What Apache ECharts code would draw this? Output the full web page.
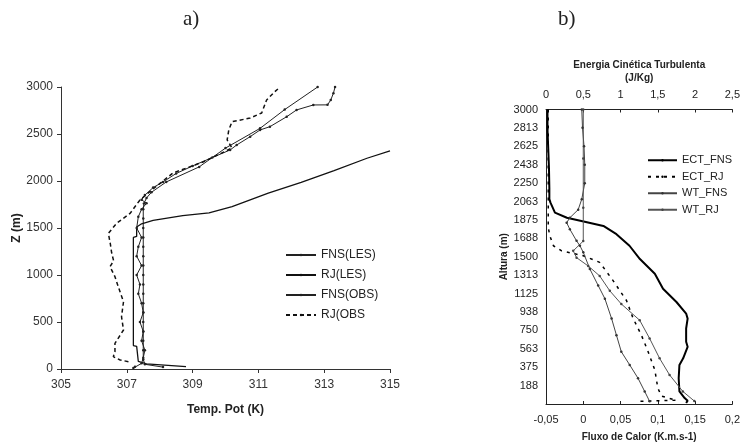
<!DOCTYPE html>
<html><head><meta charset="utf-8">
<script src="https://cdn.jsdelivr.net/npm/echarts@6/dist/echarts.min.js"></script>
<style>html,body{margin:0;padding:0;background:#fff}#c{width:743px;height:447px}</style>
</head><body><div id="c"></div>
<script>
// ---------- Chart a) Temp. Pot (K) vs Z (m) ----------
const aTicksX = [305, 307, 309, 311, 313, 315];
const fnsLesTemp = [308.1, 307.55, 307.5, 307.5, 307.5, 307.5, 307.5, 307.5, 307.5, 307.5, 307.5, 307.5, 307.5, 307.5, 307.5, 307.5, 307.5, 307.5, 307.5, 307.52, 307.6, 307.75, 308.2, 309.2, 310.0, 311.05, 311.8, 312.8];
const fnsLesZ    = [20, 50, 100, 200, 300, 400, 500, 600, 700, 800, 900, 1000, 1100, 1200, 1300, 1400, 1500, 1600, 1700, 1760, 1820, 1880, 1990, 2150, 2350, 2560, 2760, 3000];
const rjLesTemp = [308.8, 307.6, 307.35, 307.3, 307.3, 307.2, 307.2, 307.3, 307.3, 307.45, 307.8, 308.7, 309.5, 310.2, 311.3, 312.3, 313.3, 314.3, 315.0];
const rjLesZ    = [25, 55, 80, 100, 240, 250, 1400, 1410, 1510, 1545, 1580, 1632, 1660, 1727, 1870, 1985, 2110, 2242, 2320];
const fnsObsTemp = [307.2, 307.25, 307.45, 307.5, 307.55, 307.45, 307.5, 307.4, 307.5, 307.45, 307.35, 307.4, 307.3, 307.45, 307.3, 307.35, 307.45, 307.3, 307.35, 307.45, 307.6, 307.45, 307.55, 307.8, 308.1, 308.5, 309.0, 309.6, 310.14, 310.34, 310.75, 311.05, 311.35, 311.86, 312.16, 312.67, 313.1, 313.2, 313.28, 313.33];
const fnsObsZ    = [10, 25, 60, 120, 200, 300, 400, 500, 600, 700, 800, 900, 1000, 1100, 1200, 1300, 1400, 1500, 1620, 1700, 1763, 1800, 1850, 1930, 1990, 2080, 2160, 2250, 2330, 2383, 2472, 2543, 2578, 2684, 2756, 2809, 2810, 2862, 2934, 3000];
const rjObsTemp = [307.05, 306.8, 306.59, 306.64, 306.64, 306.9, 306.84, 306.9, 306.74, 306.64, 306.49, 306.6, 306.54, 306.5, 306.44, 306.69, 307.1, 307.4, 307.7, 308.4, 309.3, 310.2, 310.05, 310.1, 310.2, 310.75, 311.1, 311.25, 311.5, 311.66];
const rjObsZ    = [78, 96, 131, 184, 273, 415, 556, 716, 876, 982, 1089, 1150, 1234, 1330, 1443, 1550, 1656, 1798, 1887, 2085, 2200, 2351, 2437, 2543, 2631, 2670, 2724, 2862, 2951, 3000];

// ---------- Chart b) TKE / heat flux vs Altura ----------
const tkeTicks  = [0, 0.5, 1, 1.5, 2, 2.5];
const fluxTicks = [-0.05, 0, 0.05, 0.1, 0.15, 0.2];
const ectFnsTke = [0.02, 0.02, 0.03, 0.04, 0.045, 0.045, 0.06, 0.12, 0.28, 0.49, 0.77, 0.945, 1.12, 1.26, 1.46, 1.57, 1.75, 1.88, 1.90, 1.88, 1.88, 1.90, 1.84, 1.79, 1.78, 1.79, 1.86, 1.90, 1.88];
const ectFnsZ   = [3000, 2800, 2600, 2400, 2200, 2087, 2051, 1950, 1897, 1862, 1814, 1730, 1612, 1477, 1326, 1174, 1039, 921, 870, 769, 634, 583, 465, 398, 263, 128, 61, 34, 10];
const ectRjTke = [0.03, 0.03, 0.03, 0.03, 0.03, 0.03, 0.03, 0.05, 0.1, 0.21, 0.5, 0.72, 0.9, 0.99, 1.08, 1.17, 1.28, 1.37, 1.46, 1.50, 1.55, 1.75, 1.45, 1.23];
const ectRjZ   = [3000, 2800, 2600, 2400, 2200, 2000, 1800, 1716, 1612, 1560, 1510, 1443, 1257, 1155, 1054, 870, 701, 533, 347, 162, 80, 38, 32, 27];
const wtFnsFlux = [-0.002, -0.001, 0.001, 0.002, 0.002, -0.002, -0.0068, -0.018, -0.0223, -0.018, -0.009, -0.0045, 0.0, 0.0088, 0.02, 0.029, 0.038, 0.0445, 0.051, 0.0623, 0.0734, 0.0824, 0.089];
const wtFnsZ    = [3000, 2813, 2625, 2438, 2250, 2087, 1980, 1897, 1847, 1780, 1662, 1612, 1545, 1376, 1207, 1073, 870, 701, 533, 398, 263, 128, 27];
const wtRjFlux = [0, 0, 0, 0, -0.0135, -0.009, 0.0066, 0.022, 0.0356, 0.051, 0.0757, 0.089, 0.1024, 0.1158, 0.1336, 0.149];
const wtRjZ    = [3000, 2500, 2000, 1660, 1560, 1491, 1406, 1305, 1153, 1019, 853, 668, 465, 296, 128, 30];

const zip = (xs, ys) => xs.map((x, i) => [x, ys[i]]);
const FONT = 'Liberation Sans';
const comma = v => String(+v.toFixed(2)).replace('.', ',');

const chart = echarts.init(document.getElementById('c'), null, {renderer: 'canvas'});
chart.setOption({
  animation: false,
  backgroundColor: '#fff',
  title: [
    {text: 'a)', left: 178, top: 4, textStyle: {fontFamily: 'Liberation Serif', fontSize: 21, fontWeight: 'normal', color: '#222'}},
    {text: 'b)', left: 553, top: 4, textStyle: {fontFamily: 'Liberation Serif', fontSize: 21, fontWeight: 'normal', color: '#222'}}
  ],
  grid: [
    {left: 61, top: 87, width: 329, height: 282},
    {left: 546, top: 109.5, width: 187, height: 296.5}
  ],
  legend: [
    {data: ['FNS(LES)', 'RJ(LES)', 'FNS(OBS)', 'RJ(OBS'], orient: 'vertical', left: 280, top: 240,
     itemWidth: 30, itemHeight: 3, itemGap: 0, textStyle: {fontFamily: FONT, fontSize: 12, color: '#222', lineHeight: 20}},
    {data: ['ECT_FNS', 'ECT_RJ', 'WT_FNS', 'WT_RJ'], orient: 'vertical', left: 642, top: 147,
     itemWidth: 29, itemHeight: 3, itemGap: 0, textStyle: {fontFamily: FONT, fontSize: 11, color: '#222', lineHeight: 16.5}}
  ],
  xAxis: [
    {gridIndex: 0, type: 'value', min: 305, max: 315, interval: 2, position: 'bottom',
     name: 'Temp. Pot (K)', nameLocation: 'middle', nameGap: 35,
     nameTextStyle: {fontFamily: FONT, fontSize: 12, fontWeight: 'bold', color: '#222'},
     axisLine: {lineStyle: {color: '#333'}}, axisTick: {length: 4, lineStyle: {color: '#333'}},
     axisLabel: {margin: 10, fontFamily: FONT, fontSize: 12, color: '#333'}, splitLine: {show: false}},
    {gridIndex: 1, type: 'value', min: 0, max: 2.5, interval: 0.5, position: 'top',
     name: 'Energia Cinética Turbulenta\n(J/Kg)', nameLocation: 'middle', nameGap: 25,
     nameTextStyle: {fontFamily: FONT, fontSize: 10, fontWeight: 'bold', color: '#222', lineHeight: 13},
     axisLine: {onZero: false, lineStyle: {color: '#222'}}, axisTick: {inside: true, length: 3, lineStyle: {color: '#222'}},
     axisLabel: {margin: 9, fontFamily: FONT, fontSize: 11, color: '#222', formatter: comma}, splitLine: {show: false}},
    {gridIndex: 1, type: 'value', min: -0.05, max: 0.2, interval: 0.05, position: 'bottom',
     name: 'Fluxo de Calor (K.m.s-1)', nameLocation: 'middle', nameGap: 28,
     nameTextStyle: {fontFamily: FONT, fontSize: 10, fontWeight: 'bold', color: '#222'},
     axisLine: {onZero: false, lineStyle: {color: '#222'}}, axisTick: {inside: true, length: 3, lineStyle: {color: '#222'}},
     axisLabel: {margin: 10, fontFamily: FONT, fontSize: 11, color: '#222', formatter: comma}, splitLine: {show: false}}
  ],
  yAxis: [
    {gridIndex: 0, type: 'value', min: 0, max: 3000, interval: 500,
     name: 'Z (m)', nameLocation: 'middle', nameGap: 35,
     nameTextStyle: {fontFamily: FONT, fontSize: 12, fontWeight: 'bold', color: '#222'},
     axisLine: {show: true, lineStyle: {color: '#333'}}, axisTick: {show: true, length: 4, lineStyle: {color: '#333'}},
     axisLabel: {margin: 8, fontFamily: FONT, fontSize: 12, color: '#333', formatter: v => String(v)}, splitLine: {show: false}},
    {gridIndex: 1, type: 'value', min: 0, max: 3000, interval: 187.5,
     name: 'Altura (m)', nameLocation: 'middle', nameGap: 36,
     nameTextStyle: {fontFamily: FONT, fontSize: 10, fontWeight: 'bold', color: '#222'},
     axisLine: {show: true, onZero: false, lineStyle: {color: '#222'}}, axisTick: {show: false},
     axisLabel: {margin: 8, fontFamily: FONT, fontSize: 11, color: '#222',
       formatter: v => v === 0 ? '' : String(Math.round(v))}, splitLine: {show: false}}
  ],
  series: [
    {name: 'FNS(LES)', type: 'line', xAxisIndex: 0, yAxisIndex: 0, data: zip(fnsLesTemp, fnsLesZ),
     symbol: 'circle', symbolSize: 2.5, showSymbol: true, itemStyle: {color: '#222'}, lineStyle: {color: '#222', width: 1}},
    {name: 'RJ(LES)', type: 'line', xAxisIndex: 0, yAxisIndex: 0, data: zip(rjLesTemp, rjLesZ),
     symbol: 'none', lineStyle: {color: '#111', width: 1.3}, itemStyle: {color: '#111'}},
    {name: 'FNS(OBS)', type: 'line', xAxisIndex: 0, yAxisIndex: 0, data: zip(fnsObsTemp, fnsObsZ),
     symbol: 'circle', symbolSize: 2.5, showSymbol: true, itemStyle: {color: '#222'}, lineStyle: {color: '#222', width: 1}},
    {name: 'RJ(OBS', type: 'line', xAxisIndex: 0, yAxisIndex: 0, data: zip(rjObsTemp, rjObsZ),
     symbol: 'none', lineStyle: {color: '#111', width: 1.5, type: [4, 3]}, itemStyle: {color: '#111'}},

    {name: 'ECT_FNS', type: 'line', xAxisIndex: 1, yAxisIndex: 1, data: zip(ectFnsTke, ectFnsZ),
     symbol: 'none', lineStyle: {color: '#000', width: 2}, itemStyle: {color: '#000'}},
    {name: 'ECT_RJ', type: 'line', xAxisIndex: 1, yAxisIndex: 1, data: zip(ectRjTke, ectRjZ),
     symbol: 'none', lineStyle: {color: '#000', width: 1.5, type: [3, 5]}, itemStyle: {color: '#000'}},
    {name: 'WT_FNS', type: 'line', xAxisIndex: 2, yAxisIndex: 1, data: zip(wtFnsFlux, wtFnsZ),
     symbol: 'circle', symbolSize: 2.5, showSymbol: true, lineStyle: {color: '#444', width: 1}, itemStyle: {color: '#333'}},
    {name: 'WT_RJ', type: 'line', xAxisIndex: 2, yAxisIndex: 1, data: zip(wtRjFlux, wtRjZ),
     symbol: 'circle', symbolSize: 2.5, showSymbol: true, lineStyle: {color: '#555', width: 1}, itemStyle: {color: '#444'}}
  ]
});
</script></body></html>
